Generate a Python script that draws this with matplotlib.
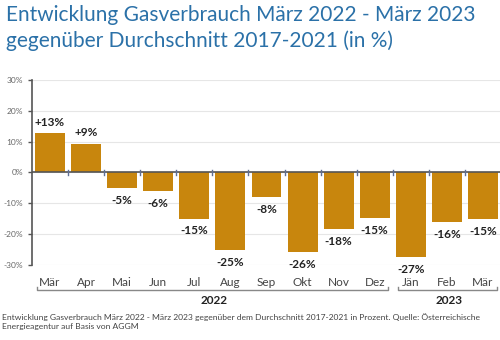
import numpy as np
import matplotlib.pyplot as plt
from matplotlib.lines import Line2D

months = ['Mär', 'Apr', 'Mai', 'Jun', 'Jul', 'Aug', 'Sep', 'Okt', 'Nov', 'Dez', 'Jän', 'Feb', 'Mär']
change = [12.7, 9.3, -5.2, -6.2, -15.0, -25.1, -8.0, -25.8, -18.4, -14.8, -27.4, -16.0, -15.2]
years = ['2022', '2023']
year_spans = [(0, 9), (10, 12)]

title = 'Entwicklung Gasverbrauch März 2022 - März 2023\ngegenüber Durchschnitt 2017-2021 (in %)'
caption = ('Entwicklung Gasverbrauch März 2022 - März 2023 gegenüber dem Durchschnitt 2017-2021 in Prozent. '
           'Quelle: Österreichische\nEnergieagentur auf Basis von AGGM')

plt.rcParams['font.family'] = ['Lato', 'DejaVu Sans']

bar_color = '#c8860d'
title_color = '#2b71a8'
grey = '#555555'

fig = plt.figure(figsize=(5, 3.4), dpi=100)
ax = fig.add_axes([0.064, 0.2215, 0.938, 0.543])

x = np.arange(len(months))
ax.bar(x, change, 0.83, color=bar_color, zorder=2)

for xi, v in zip(x, change):
    label = f'{round(v):+d}%' if v > 0 else f'{round(v)}%'
    off = 4 if v > 0 else -5
    ax.annotate(label, (xi, v), xytext=(0, off), textcoords='offset points',
                ha='center', va='bottom' if v > 0 else 'top',
                fontsize=8.5, fontweight='bold', color='#222222')

ax.set_xlim(-0.5, len(months) - 0.5)
ax.set_ylim(-30, 30)
ax.set_yticks(np.arange(-30, 31, 10))
ax.set_yticklabels([f'{t}%' for t in range(-30, 31, 10)])
ax.tick_params(axis='y', labelsize=6, labelcolor='#666666', length=3, color=grey, width=1)
ax.set_xticks([])
ax.grid(axis='y', color='#e6e6e6', linewidth=0.8, zorder=0)
ax.set_axisbelow(True)

for s in ['top', 'right', 'bottom']:
    ax.spines[s].set_visible(False)
ax.spines['left'].set_color(grey)
ax.spines['left'].set_linewidth(1.2)

# zero line with small separators between months
ax.axhline(0, color=grey, linewidth=1.2, zorder=3)
for b in np.arange(0.5, len(months) - 0.5, 1):
    ax.plot([b, b], [-0.9, 0.9], color='#5f6f94', linewidth=1, zorder=4, clip_on=False)

# month names under the plot
trans = ax.get_xaxis_transform()
for xi, m in zip(x, months):
    ax.text(xi, -0.094, m, transform=trans, ha='center', va='center',
            fontsize=8.5, color='#444444')

# year brackets
for yr, (a, b) in zip(years, year_spans):
    x0, x1 = a - 0.36, b + 0.38
    yb, yt = -0.139, -0.123
    ax.add_line(Line2D([x0, x0, x1, x1], [yt, yb, yb, yt], transform=trans,
                       color='#888888', linewidth=1, clip_on=False))
    ax.text((a + b) / 2 + 0.05, -0.195, yr, transform=trans, ha='center', va='center',
            fontsize=8.5, fontweight='bold', color='#222222')

fig.text(0.012, 0.985, title, ha='left', va='top', fontsize=15, color=title_color,
         linespacing=1.3)
fig.text(0.004, 0.080, caption, ha='left', va='top', fontsize=6.1, color='#444444',
         linespacing=1.4)

fig.savefig('out.png', dpi=100)
